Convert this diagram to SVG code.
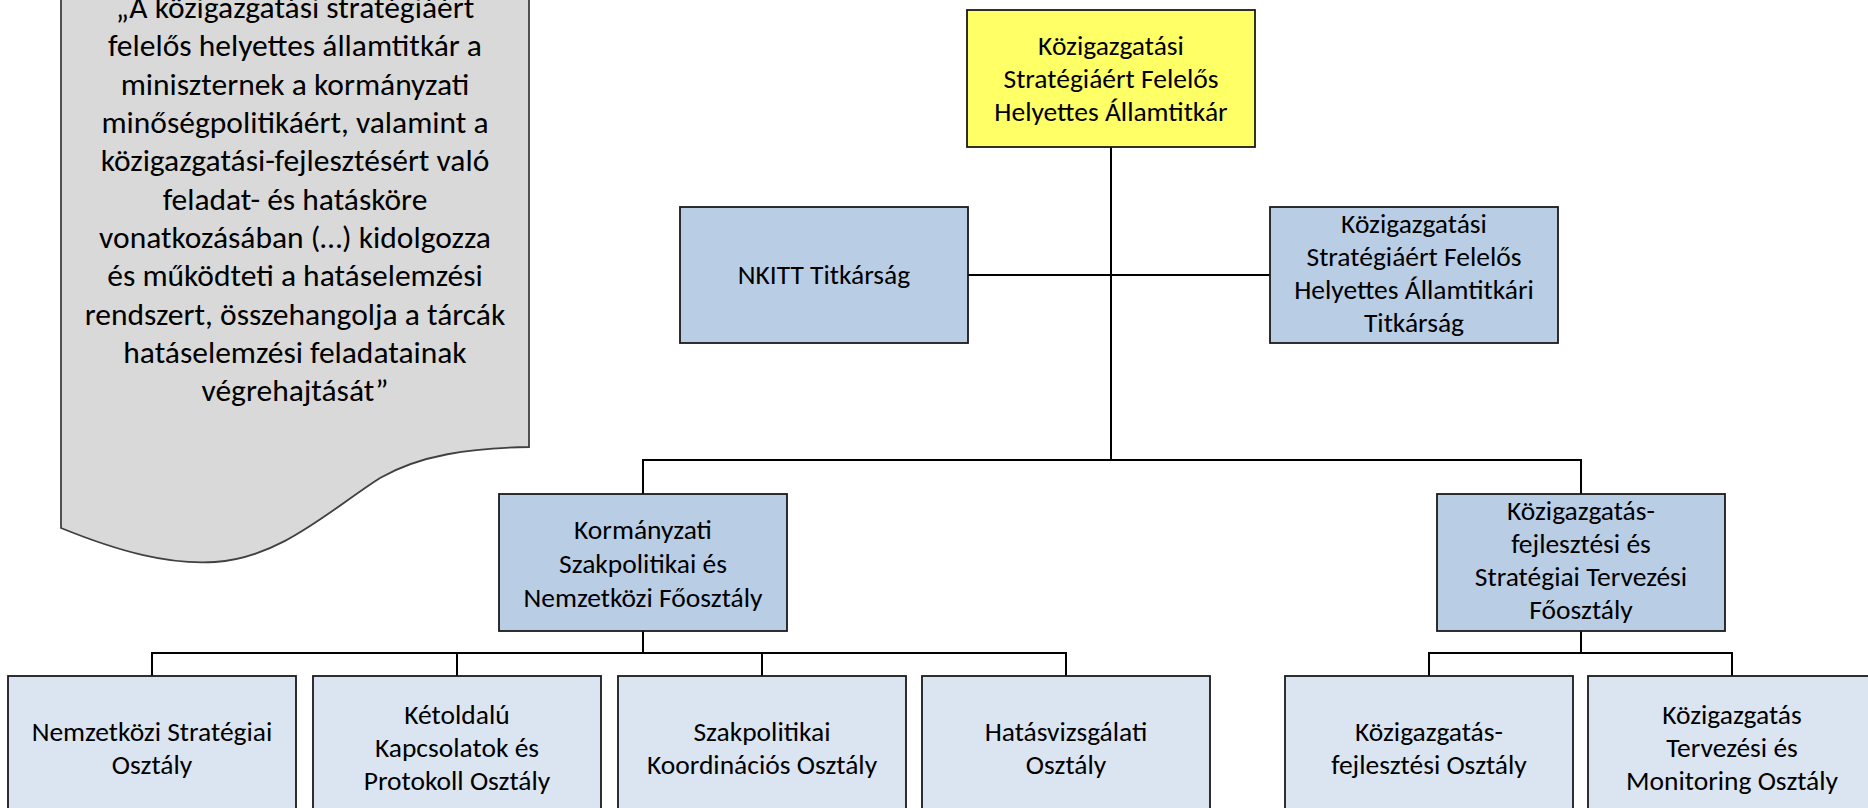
<svg xmlns="http://www.w3.org/2000/svg" width="1868" height="808" viewBox="0 0 1868 808">
<style>
text{font-family:Carlito,Calibri,Lato,"Liberation Sans",sans-serif;font-size:27.5px;fill:#000;text-anchor:middle}
.callout text{font-size:31.5px}
.l1{fill:#ffff66;stroke:#1a1a1a;stroke-width:1.8}
.l2{fill:#b9cde5;stroke:#1a1a1a;stroke-width:1.8}
.l3{fill:#dbe5f1;stroke:#1a1a1a;stroke-width:1.8}
.conn path{fill:none;stroke:#000;stroke-width:2}
</style>
<rect width="1868" height="808" fill="#fff"/>
<g id="callout" class="callout">
<path d="M61,-5 L61,528 C120,552 170,565 215,562 C280,558 330,510 380,478 C420,455 470,448 529,447 L529,-5 Z" fill="#d9d9d9" stroke="#404040" stroke-width="1.8"/>
<text x="295" y="18">„A közigazgatási stratégiáért</text>
<text x="295" y="56">felelős helyettes államtitkár a</text>
<text x="295" y="94.5">miniszternek a kormányzati</text>
<text x="295" y="133">minőségpolitikáért, valamint a</text>
<text x="295" y="171">közigazgatási-fejlesztésért való</text>
<text x="295" y="209.5">feladat- és hatásköre</text>
<text x="295" y="248">vonatkozásában (…) kidolgozza</text>
<text x="295" y="286">és működteti a hatáselemzési</text>
<text x="295" y="324.5">rendszert, összehangolja a tárcák</text>
<text x="295" y="363">hatáselemzési feladatainak</text>
<text x="295" y="401">végrehajtását”</text>
</g>
<g id="connectors" class="conn">
<path d="M1111,147 V460"/>
<path d="M968,275 H1270"/>
<path d="M643,494 V460 H1581 V494"/>
<path d="M643,631 V653"/>
<path d="M152,676 V653 H1066 V676"/>
<path d="M457,653 V676"/>
<path d="M762,653 V676"/>
<path d="M1581,631 V653"/>
<path d="M1429,676 V653 H1732 V676"/>
</g>
<g id="n-top">
<rect class="l1" x="967" y="10" width="288" height="137"/>
<text x="1111" y="55">Közigazgatási</text>
<text x="1111" y="88">Stratégiáért Felelős</text>
<text x="1111" y="121">Helyettes Államtitkár</text>
</g>
<g id="n-nkitt">
<rect class="l2" x="680" y="207" width="288" height="136"/>
<text x="824" y="284">NKITT Titkárság</text>
</g>
<g id="n-titkarsag">
<rect class="l2" x="1270" y="207" width="288" height="136"/>
<text x="1414" y="232.5">Közigazgatási</text>
<text x="1414" y="265.5">Stratégiáért Felelős</text>
<text x="1414" y="298.5">Helyettes Államtitkári</text>
<text x="1414" y="331.5">Titkárság</text>
</g>
<g id="n-kormanyzati">
<rect class="l2" x="499" y="494" width="288" height="137"/>
<text x="643" y="539">Kormányzati</text>
<text x="643" y="573">Szakpolitikai és</text>
<text x="643" y="607">Nemzetközi Főosztály</text>
</g>
<g id="n-kozig-fo">
<rect class="l2" x="1437" y="494" width="288" height="137"/>
<text x="1581" y="519.5">Közigazgatás-</text>
<text x="1581" y="552.5">fejlesztési és</text>
<text x="1581" y="585.5">Stratégiai Tervezési</text>
<text x="1581" y="618.5">Főosztály</text>
</g>
<g id="n-nemzetkozi">
<rect class="l3" x="8" y="676" width="288" height="160"/>
<text x="152" y="740.5">Nemzetközi Stratégiai</text>
<text x="152" y="773.5">Osztály</text>
</g>
<g id="n-ketoldalu">
<rect class="l3" x="313" y="676" width="288" height="160"/>
<text x="457" y="724">Kétoldalú</text>
<text x="457" y="757">Kapcsolatok és</text>
<text x="457" y="790">Protokoll Osztály</text>
</g>
<g id="n-szakpolitikai">
<rect class="l3" x="618" y="676" width="288" height="160"/>
<text x="762" y="740.5">Szakpolitikai</text>
<text x="762" y="773.5">Koordinációs Osztály</text>
</g>
<g id="n-hatasvizsgalati">
<rect class="l3" x="922" y="676" width="288" height="160"/>
<text x="1066" y="740.5">Hatásvizsgálati</text>
<text x="1066" y="773.5">Osztály</text>
</g>
<g id="n-fejlesztesi">
<rect class="l3" x="1285" y="676" width="288" height="160"/>
<text x="1429" y="740.5">Közigazgatás-</text>
<text x="1429" y="773.5">fejlesztési Osztály</text>
</g>
<g id="n-monitoring">
<rect class="l3" x="1588" y="676" width="288" height="160"/>
<text x="1732" y="724">Közigazgatás</text>
<text x="1732" y="757">Tervezési és</text>
<text x="1732" y="790">Monitoring Osztály</text>
</g>
</svg>
